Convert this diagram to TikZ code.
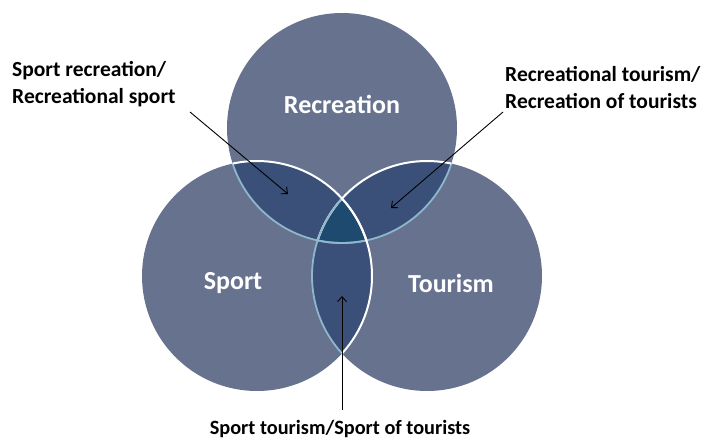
\documentclass[tikz,border=0pt]{standalone}
\usepackage{fontspec}
\setmainfont{Carlito}
\usetikzlibrary{arrows.meta}
\definecolor{mainfill}{HTML}{67728F}
\definecolor{lensfill}{HTML}{3A5079}
\definecolor{triplefill}{HTML}{1F4A6F}
\definecolor{edgeblue}{HTML}{8DB8CC}
\tikzset{
  circlabel/.style={text=white,font=\bfseries\fontsize{26}{30}\selectfont},
  sidelabel/.style={text=black,font=\bfseries\fontsize{21.5}{27}\selectfont,inner sep=0pt},
  bottomlabel/.style={text=black,font=\bfseries\fontsize{20.3}{24}\selectfont,inner sep=0pt},
  pointer/.style={draw=black,line width=0.9pt,-{Straight Barb[length=5pt,width=9pt]}},
  whiteedge/.style={draw=white,line width=2pt},
  blueedge/.style={draw=edgeblue,line width=1.8pt}
}
\begin{document}
\begin{tikzpicture}[x=1pt,y=-1pt]
\useasboundingbox (0,0) rectangle (706,439);
\def\R{115}
\coordinate (T) at (342,128);
\coordinate (L) at (257,276);
\coordinate (Rt) at (427,276);
% base circles
\fill[mainfill] (T) circle (\R);
\fill[mainfill] (L) circle (\R);
\fill[mainfill] (Rt) circle (\R);
% pairwise overlaps
\begin{scope}
  \clip (T) circle (\R);
  \fill[lensfill] (L) circle (\R);
  \fill[lensfill] (Rt) circle (\R);
\end{scope}
\begin{scope}
  \clip (L) circle (\R);
  \fill[lensfill] (Rt) circle (\R);
\end{scope}
% triple overlap
\begin{scope}
  \clip (T) circle (\R);
  \clip (L) circle (\R);
  \fill[triplefill] (Rt) circle (\R);
\end{scope}
% edges
\begin{scope}
  \clip (L) circle (\R);
  \draw[blueedge] (T) circle (\R);
\end{scope}
\begin{scope}
  \clip (Rt) circle (\R);
  \draw[blueedge] (T) circle (\R);
\end{scope}
\begin{scope}
  \clip (T) circle (\R);
  \draw[whiteedge] (Rt) circle (\R);
\end{scope}
\begin{scope}
  \clip (L) circle (\R);
  \draw[blueedge] (Rt) circle (\R);
\end{scope}
\begin{scope}
  \clip (T) circle (\R);
  \draw[whiteedge] (L) circle (\R);
\end{scope}
\begin{scope}
  \clip (Rt) circle (\R);
  \draw[whiteedge] (L) circle (\R);
\end{scope}
% circle labels
\node[circlabel] (rec) at (342,104) {Recreation};
\node[circlabel] (spo) at (233,283) {Sport};
\node[circlabel] (tou) at (451,283) {Tourism};
% side labels
\node[sidelabel,align=left,anchor=base west] (lab1) at (12,103) {Sport recreation/\\Recreational sport};
\node[sidelabel,align=left,anchor=base west] (lab2) at (505,108) {Recreational tourism/\\Recreation of tourists};
\node[bottomlabel,anchor=base] (lab3) at (340,434) {Sport tourism/Sport of tourists};
% arrow ends
\coordinate (a1s) at (190,112);
\coordinate (a1e) at (288,194);
\coordinate (a2s) at (503,112);
\coordinate (a2e) at (391,208);
\coordinate (a3s) at (342,410);
\coordinate (a3e) at (342,296);
\draw[pointer] (a1s) -- (a1e);
\draw[pointer] (a2s) -- (a2e);
\draw[pointer] (a3s) -- (a3e);
\end{tikzpicture}
\end{document}
